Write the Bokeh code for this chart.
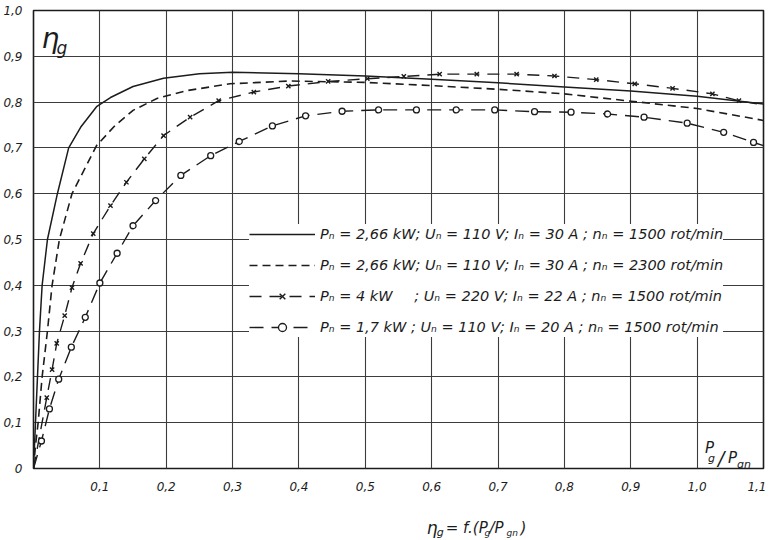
from bokeh.plotting import figure
from bokeh.layouts import column
from bokeh.models import Range1d, FixedTicker, Label, Legend, LegendItem, CustomJSTickFormatter
from bokeh.embed import file_html
from bokeh.resources import INLINE

# ---- data ----
# curve 1: Pn=2,66 kW, 1500 rot/min (solid)
x1 = [0, 0.003, 0.006, 0.009, 0.013, 0.021, 0.036, 0.053, 0.071, 0.095, 0.116, 0.15, 0.196,
      0.25, 0.3, 0.4, 0.5, 0.6, 0.7, 0.8, 0.9, 1.0, 1.1]
y1 = [0, 0.1, 0.2, 0.3, 0.4, 0.5, 0.6, 0.7, 0.745, 0.79, 0.81, 0.834, 0.852,
      0.862, 0.865, 0.862, 0.857, 0.85, 0.842, 0.833, 0.824, 0.813, 0.796]
# curve 2: Pn=2,66 kW, 2300 rot/min (dashed)
x2 = [0, 0.003, 0.007, 0.013, 0.021, 0.028, 0.039, 0.058, 0.095, 0.123, 0.15, 0.186, 0.231,
      0.296, 0.386, 0.5, 0.6, 0.7, 0.8, 0.9, 1.0, 1.1]
y2 = [0, 0.05, 0.1, 0.2, 0.3, 0.4, 0.5, 0.6, 0.705, 0.749, 0.782, 0.808, 0.825,
      0.84, 0.846, 0.843, 0.836, 0.828, 0.818, 0.802, 0.786, 0.76]
# curve 3: Pn=4 kW (x markers)
x3 = [0.02, 0.028, 0.035, 0.047, 0.058, 0.071, 0.09, 0.116, 0.14, 0.167, 0.196, 0.236, 0.279,
      0.332, 0.384, 0.444, 0.503, 0.558, 0.612, 0.668, 0.728, 0.785, 0.848, 0.906, 0.963,
      1.023, 1.063]
y3 = [0.155, 0.216, 0.273, 0.334, 0.395, 0.448, 0.513, 0.574, 0.625, 0.676, 0.727, 0.767, 0.803,
      0.822, 0.835, 0.845, 0.851, 0.856, 0.861, 0.861, 0.861, 0.857, 0.849, 0.84, 0.83,
      0.818, 0.803]
x3_ends = [0.0, 1.09]
y3_ends = [0.0, 0.796]
# curve 4: Pn=1,7 kW (o markers)
x4 = [0.012, 0.024, 0.038, 0.057, 0.078, 0.1, 0.126, 0.15, 0.184, 0.222, 0.267, 0.31, 0.36,
      0.41, 0.465, 0.52, 0.577, 0.637, 0.695, 0.755, 0.81, 0.865, 0.92, 0.985, 1.04, 1.085]
y4 = [0.06, 0.13, 0.195, 0.265, 0.33, 0.405, 0.47, 0.53, 0.585, 0.64, 0.683, 0.714, 0.748,
      0.77, 0.78, 0.783, 0.783, 0.783, 0.783, 0.779, 0.778, 0.774, 0.767, 0.754, 0.734, 0.712]
x4_ends = [0.0, 1.1]
y4_ends = [0.0, 0.705]

x_ticks = [0.0, 0.1, 0.2, 0.3, 0.4, 0.5, 0.6, 0.7, 0.8, 0.9, 1.0, 1.1]
y_ticks = [0.0, 0.1, 0.2, 0.3, 0.4, 0.5, 0.6, 0.7, 0.8, 0.9, 1.0]

labels = [
    "P\u2099 = 2,66 kW; U\u2099 = 110 V; I\u2099 = 30 A ; n\u2099 = 1500 rot/min",
    "P\u2099 = 2,66 kW; U\u2099 = 110 V; I\u2099 = 30 A ; n\u2099 = 2300 rot/min",
    "P\u2099 = 4 kW\u2003\u2002; U\u2099 = 220 V; I\u2099 = 22 A ; n\u2099 = 1500 rot/min",
    "P\u2099 = 1,7 kW ; U\u2099 = 110 V; I\u2099 = 20 A ; n\u2099 = 1500 rot/min",
]

INK = "#1c1c1c"
FONT = "DejaVu Sans"

p = figure(width=766, height=498, x_range=Range1d(0, 1.1), y_range=Range1d(0, 1.0),
           output_backend="svg", toolbar_location=None,
           min_border_left=33, min_border_right=3, min_border_top=10, min_border_bottom=30)
p.background_fill_color = "white"
p.border_fill_color = "white"
p.outline_line_color = INK
p.outline_line_width = 1.6

p.xaxis.ticker = FixedTicker(ticks=x_ticks)
p.yaxis.ticker = FixedTicker(ticks=y_ticks)
p.xgrid.ticker = FixedTicker(ticks=x_ticks)
p.ygrid.ticker = FixedTicker(ticks=y_ticks)
p.xaxis.formatter = CustomJSTickFormatter(code="return tick < 0.001 ? '' : tick.toFixed(1).replace('.', ',');")
p.yaxis.formatter = CustomJSTickFormatter(code="return tick < 0.001 ? '0' : tick.toFixed(1).replace('.', ',');")
for ax in (p.xaxis, p.yaxis):
    ax.axis_line_color = None
    ax.major_tick_line_color = None
    ax.minor_tick_line_color = None
    ax.major_label_text_font = FONT
    ax.major_label_text_font_style = "italic"
    ax.major_label_text_font_size = "12px"
    ax.major_label_text_color = INK
p.xaxis.major_label_standoff = 7
p.yaxis.major_label_standoff = 5
for g in (p.xgrid, p.ygrid):
    g.grid_line_color = "#3c3c3c"
    g.grid_line_width = 1.1

r1 = p.line(x1, y1, line_color=INK, line_width=1.5)
r2 = p.line(x2, y2, line_color=INK, line_width=1.6, line_dash="8 5")
r3 = p.line([x3_ends[0]] + x3 + [x3_ends[1]], [y3_ends[0]] + y3 + [y3_ends[1]],
            line_color=INK, line_width=1.4, line_dash="12 8")
m3 = p.scatter(x3, y3, marker="x", size=6, line_color=INK, line_width=1.4)
r4 = p.line([x4_ends[0]] + x4 + [x4_ends[1]], [y4_ends[0]] + y4 + [y4_ends[1]],
            line_color=INK, line_width=1.4, line_dash="14 8")
m4 = p.scatter(x4, y4, marker="circle", size=6, line_color=INK, line_width=1.3,
               fill_color="white")

legend = Legend(items=[
    LegendItem(label=labels[0], renderers=[r1]),
    LegendItem(label=labels[1], renderers=[r2]),
    LegendItem(label=labels[2], renderers=[r3, m3]),
    LegendItem(label=labels[3], renderers=[r4, m4]),
], location=(216, 131))
legend.border_line_color = None
legend.background_fill_color = "white"
legend.background_fill_alpha = 1.0
legend.padding = 6
legend.spacing = 11
legend.glyph_width = 66
legend.glyph_height = 20
legend.label_height = 20
legend.label_standoff = 5
legend.label_text_font = FONT
legend.label_text_font_style = "italic"
legend.label_text_font_size = "14.5px"
legend.label_text_color = INK
legend.margin = 0
p.add_layout(legend)


def dx(px):
    return (px - 33) / 665.0


def dy(py):
    return (468 - py) / 458.0


def lab(fig, text, x, y, size):
    fig.add_layout(Label(x=x, y=y, text=text, text_font=FONT, text_font_style="italic",
                         text_font_size=size, text_color=INK, text_baseline="alphabetic"))


# axis title eta_g (top left)
lab(p, "\u03b7", dx(41), dy(38), "28px")
lab(p, "g", dx(56), dy(47), "17px")
# P_g / P_gn (bottom right)
lab(p, "P", dx(706), dy(447), "15px")
lab(p, "g", dx(709), dy(458), "11px")
lab(p, "/", dx(719), dy(457), "19px")
lab(p, "P", dx(729), dy(457), "15px")
lab(p, "gn", dx(738), dy(464), "11px")

# caption strip below the chart (page y 498..538)
c = figure(width=766, height=40, x_range=p.x_range, y_range=Range1d(0, 40),
           output_backend="svg", toolbar_location=None,
           min_border_left=33, min_border_right=3, min_border_top=0, min_border_bottom=0)
c.axis.visible = False
c.grid.visible = False
c.outline_line_color = None
c.background_fill_color = "white"
c.border_fill_color = "white"


def cy(py):
    return 538 - py


lab(c, "\u03b7", dx(427), cy(527), "17px")
lab(c, "g", dx(437), cy(532), "11px")
lab(c, "= f.(P", dx(446), cy(527), "15px")
lab(c, "g", dx(485), cy(532), "9px")
lab(c, "/P", dx(490), cy(527), "15px")
lab(c, "gn", dx(507), cy(532), "9px")
lab(c, ")", dx(521), cy(527), "15px")

layout = column(p, c, spacing=0)
open("out.html", "w").write(file_html(layout, INLINE))
